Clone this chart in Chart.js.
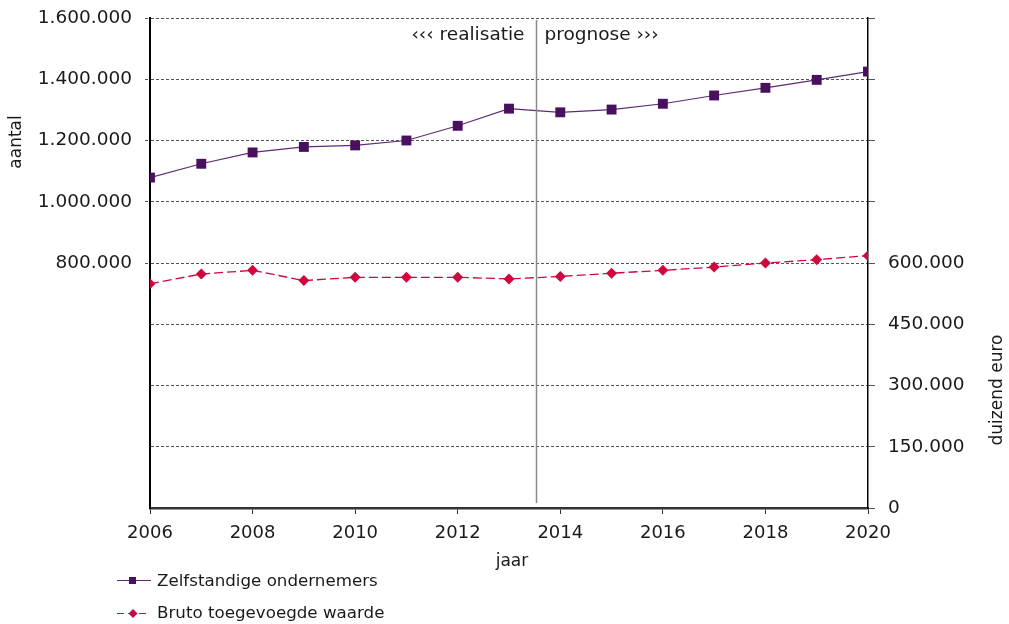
<!DOCTYPE html>
<html>
<head>
<meta charset="utf-8">
<script src="https://cdn.jsdelivr.net/npm/chart.js@4.4.1/dist/chart.umd.min.js"></script>
<style>
  html, body { margin: 0; padding: 0; background: #fff; }
</style>
</head>
<body>
<canvas id="myChart" width="1009" height="624"></canvas>
<script>
const jaren = [2006, 2007, 2008, 2009, 2010, 2011, 2012, 2013, 2014, 2015, 2016, 2017, 2018, 2019, 2020];
const zelfstandigen = [1079000, 1124000, 1161000, 1179000, 1184000, 1200000, 1248000, 1304000, 1292000, 1301000, 1320000, 1347000, 1372000, 1398000, 1425000];
const toegevoegdeWaarde = [549000, 573000, 582000, 557000, 565000, 565000, 565000, 561000, 567000, 575000, 582000, 590000, 600000, 608000, 618000];
const grensJaar = 2013.53;

const FONT = '"DejaVu Sans", Verdana, sans-serif';
const PAARS = '#4a1060';
const PAARS_LIJN = '#5e2a74';
const ROOD = '#d0073f';

function fmt(v) {
    return String(v).replace(/\B(?=(\d{3})+(?!\d))/g, '.');
}

// vaste marges, zodat het plotvlak op dezelfde plek ligt als in het origineel
function vast(breedte, hoogte) {
    return s => {
        if (breedte) s.width = breedte;
        if (hoogte) s.height = hoogte;
        s.paddingTop = 0;
        s.paddingBottom = 0;
        s.paddingLeft = 0;
        s.paddingRight = 0;
    };
}

// titels, scheidingslijn en legenda
const extraTekst = {
    id: 'extraTekst',
    afterDatasetsDraw(chart) {
        const c = chart.ctx;
        const x = chart.scales.x;
        const area = chart.chartArea;
        c.save();
        // realisatie / prognose lijn
        const gx = Math.round(x.getPixelForValue(grensJaar)) + 0.5;
        c.strokeStyle = '#8a8a8a';
        c.lineWidth = 1.5;
        c.beginPath();
        c.moveTo(gx, area.top + 2);
        c.lineTo(gx, area.bottom - 5);
        c.stroke();

        c.fillStyle = '#1a1a1a';
        c.font = '18.5px ' + FONT;
        c.textBaseline = 'middle';
        c.textAlign = 'right';
        c.fillText('\u2039\u2039\u2039 realisatie', gx - 12, 35);
        c.textAlign = 'left';
        c.fillText('prognose \u203a\u203a\u203a', gx + 8, 35);

        // as-titels
        c.font = '17px ' + FONT;
        c.textAlign = 'center';
        c.fillText('jaar', 512, 562);
        c.save();
        c.translate(17, 142);
        c.rotate(-Math.PI / 2);
        c.fillText('aantal', 0, 0);
        c.restore();
        c.save();
        c.translate(998, 390);
        c.rotate(-Math.PI / 2);
        c.fillText('duizend euro', 0, 0);
        c.restore();

        // legenda
        c.textAlign = 'left';
        c.lineWidth = 1.2;
        c.strokeStyle = PAARS_LIJN;
        c.beginPath();
        c.moveTo(117, 580.5);
        c.lineTo(151, 580.5);
        c.stroke();
        c.fillStyle = PAARS;
        c.fillRect(129, 577, 7, 7);
        c.strokeStyle = ROOD;
        c.setLineDash([7, 4]);
        c.beginPath();
        c.moveTo(117, 613.5);
        c.lineTo(148, 613.5);
        c.stroke();
        c.setLineDash([]);
        c.fillStyle = ROOD;
        c.beginPath();
        c.moveTo(133, 609);
        c.lineTo(137.5, 613.5);
        c.lineTo(133, 618);
        c.lineTo(128.5, 613.5);
        c.closePath();
        c.fill();
        c.fillStyle = '#1a1a1a';
        c.font = '16.7px ' + FONT;
        c.fillText('Zelfstandige ondernemers', 157, 582);
        c.fillText('Bruto toegevoegde waarde', 157, 614);
        c.restore();
    }
};

const ctx = document.getElementById('myChart');

new Chart(ctx, {
    type: 'line',
    data: {
        datasets: [{
            label: 'Zelfstandige ondernemers',
            data: jaren.map((j, i) => ({ x: j, y: zelfstandigen[i] })),
            yAxisID: 'y',
            borderColor: PAARS_LIJN,
            backgroundColor: PAARS,
            borderWidth: 1.2,
            pointStyle: 'rect',
            pointRadius: 7,
            pointBorderWidth: 0,
            tension: 0
        }, {
            label: 'Bruto toegevoegde waarde',
            data: jaren.map((j, i) => ({ x: j, y: toegevoegdeWaarde[i] })),
            yAxisID: 'y1',
            borderColor: ROOD,
            backgroundColor: ROOD,
            borderWidth: 1.3,
            borderDash: [9, 4],
            pointStyle: 'rectRot',
            pointRadius: 5.5,
            pointBorderWidth: 0,
            tension: 0
        }]
    },
    options: {
        responsive: false,
        animation: false,
        layout: { padding: { top: 18, left: 0, right: 0, bottom: 0 } },
        plugins: {
            legend: { display: false },
            tooltip: { enabled: false }
        },
        scales: {
            x: {
                type: 'linear',
                min: 2006,
                max: 2020,
                afterFit: vast(0, 116),
                border: { color: '#333', width: 2.5 },
                grid: { drawOnChartArea: false, tickLength: 6, color: '#333' },
                ticks: {
                    stepSize: 2,
                    padding: 9,
                    maxRotation: 0,
                    color: '#1a1a1a',
                    font: { family: FONT, size: 18 },
                    callback: v => String(v)
                }
            },
            y: {
                position: 'left',
                min: 0,
                max: 1600000,
                afterFit: vast(150, 0),
                border: { color: '#000', width: 2, dash: [3, 2] },
                grid: {
                    color: '#555',
                    lineWidth: 1,
                    tickLength: 5,
                    tickColor: c => (c.tick && c.tick.value >= 800000 ? '#555' : 'rgba(0,0,0,0)'),
                    tickBorderDash: [3, 2]
                },
                ticks: {
                    stepSize: 200000,
                    padding: 13,
                    color: '#1a1a1a',
                    font: { family: FONT, size: 18.5 },
                    callback: v => (v >= 800000 ? fmt(v) : '')
                }
            },
            y1: {
                position: 'right',
                min: 0,
                max: 1200000,
                afterFit: vast(141, 0),
                border: { color: '#000', width: 1.5 },
                grid: { drawOnChartArea: false, tickLength: 7, color: '#555' },
                ticks: {
                    stepSize: 150000,
                    padding: 13,
                    color: '#1a1a1a',
                    font: { family: FONT, size: 18.5 },
                    callback: v => (v <= 600000 ? fmt(v) : '')
                }
            }
        }
    },
    plugins: [extraTekst]
});
</script>
</body>
</html>
